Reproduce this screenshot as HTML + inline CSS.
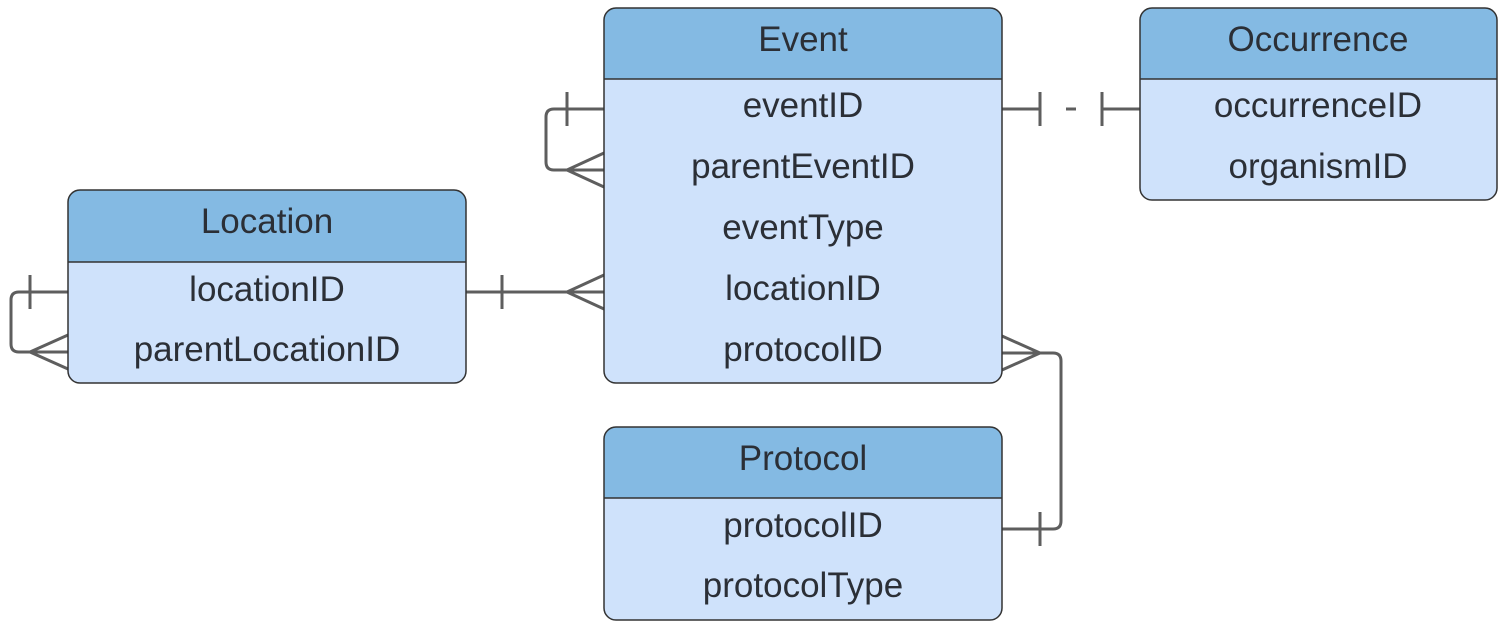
<!DOCTYPE html>
<html><head><meta charset="utf-8"><style>
html,body{margin:0;padding:0;background:#fff;width:1504px;height:628px;overflow:hidden}
text{font-family:"Liberation Sans",Arial,sans-serif;font-size:35px;fill:#2b2f36;text-anchor:middle}
</style></head><body>
<svg width="1504" height="628" viewBox="0 0 1504 628" xmlns="http://www.w3.org/2000/svg">
<defs>
<clipPath id="cE"><rect x="604" y="8" width="398" height="375" rx="12"/></clipPath>
<clipPath id="cO"><rect x="1140" y="8" width="357" height="192" rx="12"/></clipPath>
<clipPath id="cL"><rect x="68" y="190" width="398" height="193" rx="12"/></clipPath>
<clipPath id="cP"><rect x="604" y="427" width="398" height="193" rx="12"/></clipPath>
</defs>
<g fill="none" stroke="#5e5e5e" stroke-width="3">
<path d="M604 109 H554 Q546 109 546 117 V162 Q546 170 554 170 H604"/>
<path d="M567 92 V126"/>
<path d="M567 170 L604 153 M567 170 L604 187"/>
<path d="M1002 109 H1040 M1066 109 H1076 M1102 109 H1140"/>
<path d="M1040 92 V126 M1102 92 V126"/>
<path d="M466 292 H604"/>
<path d="M502 275 V309"/>
<path d="M567 292 L604 275 M567 292 L604 309"/>
<path d="M68 292 H19 Q11 292 11 300 V344 Q11 352 19 352 H68"/>
<path d="M30 275 V309"/>
<path d="M30 352 L68 335 M30 352 L68 369"/>
<path d="M1002 353 H1053 Q1061 353 1061 361 V521 Q1061 529 1053 529 H1002"/>
<path d="M1040 353 L1002 336 M1040 353 L1002 370"/>
<path d="M1040 512 V546"/>
</g>
<g clip-path="url(#cE)">
<rect x="604" y="8" width="398" height="375" fill="#cfe2fb"/>
<rect x="604" y="8" width="398" height="71" fill="#84bae3"/>
</g>
<line x1="604" y1="79" x2="1002" y2="79" stroke="#333" stroke-width="1.5"/>
<rect x="604" y="8" width="398" height="375" rx="12" fill="none" stroke="#333" stroke-width="1.5"/>
<text x="803" y="51">Event</text>
<text x="803" y="117">eventID</text>
<text x="803" y="178">parentEventID</text>
<text x="803" y="239">eventType</text>
<text x="803" y="300">locationID</text>
<text x="803" y="361">protocolID</text>
<g clip-path="url(#cO)">
<rect x="1140" y="8" width="357" height="192" fill="#cfe2fb"/>
<rect x="1140" y="8" width="357" height="71" fill="#84bae3"/>
</g>
<line x1="1140" y1="79" x2="1497" y2="79" stroke="#333" stroke-width="1.5"/>
<rect x="1140" y="8" width="357" height="192" rx="12" fill="none" stroke="#333" stroke-width="1.5"/>
<text x="1318" y="51">Occurrence</text>
<text x="1318" y="117">occurrenceID</text>
<text x="1318" y="178">organismID</text>
<g clip-path="url(#cL)">
<rect x="68" y="190" width="398" height="193" fill="#cfe2fb"/>
<rect x="68" y="190" width="398" height="72" fill="#84bae3"/>
</g>
<line x1="68" y1="262" x2="466" y2="262" stroke="#333" stroke-width="1.5"/>
<rect x="68" y="190" width="398" height="193" rx="12" fill="none" stroke="#333" stroke-width="1.5"/>
<text x="267" y="233">Location</text>
<text x="267" y="301">locationID</text>
<text x="267" y="361">parentLocationID</text>
<g clip-path="url(#cP)">
<rect x="604" y="427" width="398" height="193" fill="#cfe2fb"/>
<rect x="604" y="427" width="398" height="71" fill="#84bae3"/>
</g>
<line x1="604" y1="498" x2="1002" y2="498" stroke="#333" stroke-width="1.5"/>
<rect x="604" y="427" width="398" height="193" rx="12" fill="none" stroke="#333" stroke-width="1.5"/>
<text x="803" y="470">Protocol</text>
<text x="803" y="537">protocolID</text>
<text x="803" y="597">protocolType</text>
</svg>
</body></html>
